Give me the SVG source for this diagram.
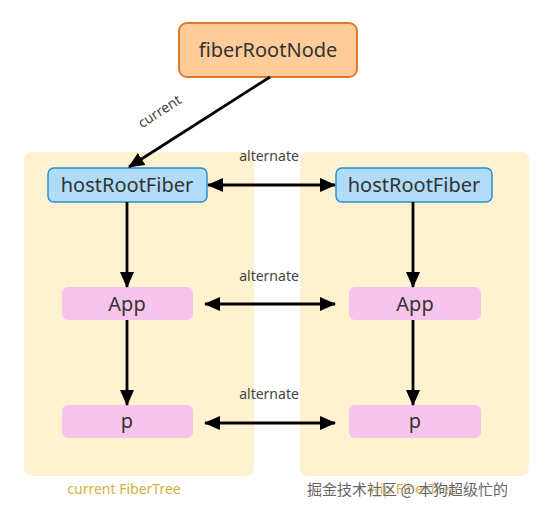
<svg xmlns="http://www.w3.org/2000/svg" width="555" height="513" viewBox="0 0 555 513">
<style>
  .panel{fill:#FEF2D0;}
  .t{font-family:"Noto Sans","Open Sans",sans-serif;fill:#333;text-anchor:middle;}
  .n{font-size:20px;}
  .lbl{font-size:14px;fill:#444;}
  .blue{fill:#B0DCF8;stroke:#2A8FD0;stroke-width:1.5;}
  .pink{fill:#F7C4EC;}
  .line{stroke:#000;stroke-width:2.8;fill:none;}
</style>
<defs>
  <marker id="ah" viewBox="0 0 16 14" refX="15" refY="7" markerWidth="16" markerHeight="14" markerUnits="userSpaceOnUse" orient="auto-start-reverse">
    <path d="M0,0 L16,7 L0,14 Z" fill="#000"/>
  </marker>
</defs>
<rect width="555" height="513" fill="#fff"/>
<rect class="panel" x="24" y="152" width="230" height="324" rx="8"/>
<rect class="panel" x="300" y="152" width="229" height="324" rx="8"/>
<text class="t" x="124" y="494" style="font-size:14px;fill:#D4B040">current FiberTree</text>
<text class="t" x="413" y="494" style="font-size:14px;fill:#D4B040">wip FiberTree</text>

<g id="fiberRootNode">
  <rect x="179" y="23" width="178" height="54" rx="8" fill="#FFCC9A" stroke="#E0782A" stroke-width="2"/>
  <text class="t n" x="268" y="57">fiberRootNode</text>
</g>
<g id="hostRootFiberL">
  <rect class="blue" x="48" y="168" width="159" height="34" rx="6"/>
  <text class="t n" x="127" y="192">hostRootFiber</text>
</g>
<g id="hostRootFiberR">
  <rect class="blue" x="336" y="168" width="156" height="34" rx="6"/>
  <text class="t n" x="414" y="192">hostRootFiber</text>
</g>
<g id="AppL">
  <rect class="pink" x="62" y="287" width="131" height="33" rx="6"/>
  <text class="t n" x="127" y="311">App</text>
</g>
<g id="AppR">
  <rect class="pink" x="349" y="287" width="132" height="33" rx="6"/>
  <text class="t n" x="415" y="311">App</text>
</g>
<g id="pL">
  <rect class="pink" x="62" y="405" width="131" height="33" rx="6"/>
  <text class="t n" x="127" y="428">p</text>
</g>
<g id="pR">
  <rect class="pink" x="349" y="405" width="132" height="33" rx="6"/>
  <text class="t n" x="415" y="428">p</text>
</g>

<g id="connectors">
  <line class="line" x1="270" y1="77" x2="129" y2="167" marker-end="url(#ah)"/>
  <text class="t lbl" x="160" y="116" transform="rotate(-33 160 112)">current</text>
  <line class="line" x1="127" y1="202" x2="127" y2="287" marker-end="url(#ah)"/>
  <line class="line" x1="127" y1="320" x2="127" y2="405" marker-end="url(#ah)"/>
  <line class="line" x1="413" y1="202" x2="413" y2="287" marker-end="url(#ah)"/>
  <line class="line" x1="413" y1="320" x2="413" y2="405" marker-end="url(#ah)"/>
  <line class="line" x1="208" y1="185" x2="335" y2="185" marker-start="url(#ah)" marker-end="url(#ah)"/>
  <line class="line" x1="205" y1="304" x2="335" y2="304" marker-start="url(#ah)" marker-end="url(#ah)"/>
  <line class="line" x1="205" y1="423" x2="335" y2="423" marker-start="url(#ah)" marker-end="url(#ah)"/>
  <text class="t lbl" x="269" y="161">alternate</text>
  <text class="t lbl" x="269" y="281">alternate</text>
  <text class="t lbl" x="269" y="399">alternate</text>
</g>
<text x="508" y="495" style="font-family:'Noto Sans CJK SC',sans-serif;font-size:15px;fill:#666;text-anchor:end;stroke:#fff;stroke-width:0.6;paint-order:stroke">掘金技术社区 @ 本狗超级忙的</text>
</svg>
